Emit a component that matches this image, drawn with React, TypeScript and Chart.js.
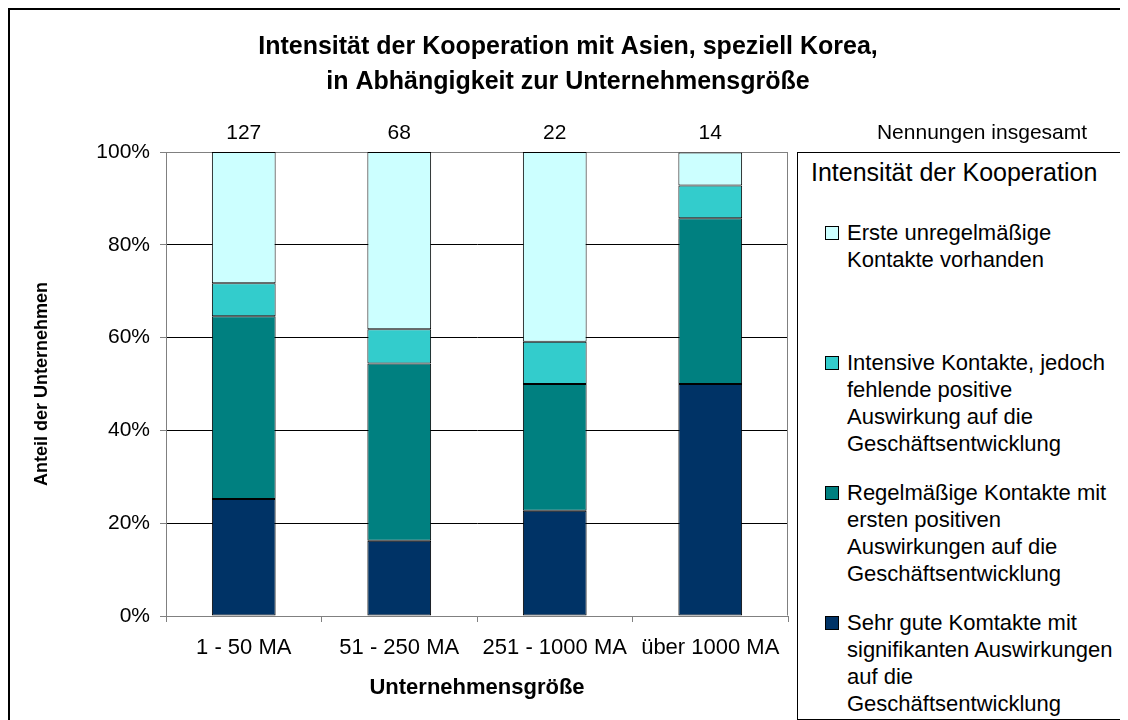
import React, { useEffect, useRef } from "react";
import { Chart, registerables } from "chart.js";

Chart.register(...registerables);

const FONT = '"Liberation Sans", Arial, Helvetica, sans-serif';

// ---- data ----
const titleLines = [
  "Intensität der Kooperation mit Asien, speziell Korea,",
  "in Abhängigkeit zur Unternehmensgröße",
];
const categories = ["1 - 50 MA", "51 - 250 MA", "251 - 1000 MA", "über 1000 MA"];
const totals = [127, 68, 22, 14];
const totalsLabel = "Nennungen insgesamt";
const xTitle = "Unternehmensgröße";
const yTitle = "Anteil der Unternehmen";
const legendTitle = "Intensität der Kooperation";

// stacked from bottom to top (percent)
const sehrGut = [25.2, 16.2, 22.7, 50.0];
const regelmaessig = [39.4, 38.2, 27.3, 35.7];
const intensiv = [7.1, 7.4, 9.1, 7.1];
const ersteKontakte = [28.3, 38.2, 40.9, 7.1];

const sehrGutLines = ["Sehr gute Komtakte mit", "signifikanten Auswirkungen", "auf die", "Geschäftsentwicklung"];
const regelmaessigLines = ["Regelmäßige Kontakte mit", "ersten positiven", "Auswirkungen auf die", "Geschäftsentwicklung"];
const intensivLines = ["Intensive Kontakte, jedoch", "fehlende positive", "Auswirkung auf die", "Geschäftsentwicklung"];
const ersteLines = ["Erste unregelmäßige", "Kontakte vorhanden"];

const seriesColors = ["#003366", "#008080", "#33CCCC", "#CCFFFF"];
const seriesData = [sehrGut, regelmaessig, intensiv, ersteKontakte];
const seriesLines = [sehrGutLines, regelmaessigLines, intensivLines, ersteLines];

const yTickValues = [0, 20, 40, 60, 80, 100];

const extrasPlugin = {
  id: "extras",
  beforeDatasetsDraw(chart: any) {
    const { ctx, chartArea } = chart;
    ctx.save();
    ctx.strokeStyle = "#808080";
    ctx.lineWidth = 1;
    const l = Math.round(chartArea.left) + 0.5;
    const t = Math.round(chartArea.top) + 0.5;
    const r = Math.round(chartArea.right) - 0.5;
    const b = Math.round(chartArea.bottom) - 0.5;
    ctx.beginPath();
    ctx.moveTo(l, t);
    ctx.lineTo(r, t);
    ctx.lineTo(r, b);
    ctx.stroke();
    ctx.restore();
  },
  afterDraw(chart: any) {
    const { ctx, chartArea } = chart;
    const xs = chart.scales.x;
    ctx.save();
    ctx.fillStyle = "#000";
    ctx.font = `21px ${FONT}`;
    ctx.textAlign = "center";
    ctx.textBaseline = "middle";
    const y = chartArea.top - 19;
    totals.forEach((v, i) => {
      ctx.fillText(String(v), xs.getPixelForValue(i), y);
    });
    ctx.fillText(totalsLabel, 972, y);
    ctx.restore();
  },
};

export default function App() {
  const ref = useRef<HTMLCanvasElement>(null);

  useEffect(() => {
    const canvas = ref.current!;
    Chart.defaults.font.family = FONT;
    Chart.defaults.color = "#000";
    const chart = new Chart(canvas, {
      type: "bar",
      data: {
        labels: categories,
        datasets: seriesData.map((d, i) => ({
          label: seriesLines[i].join(" "),
          data: d,
          backgroundColor: seriesColors[i],
          borderColor: "#000",
          borderWidth: 1,
          borderSkipped: false,
          barPercentage: 0.41,
          categoryPercentage: 1,
        })),
      },
      options: {
        responsive: false,
        animation: false,
        devicePixelRatio: 1,
        layout: { padding: { left: 0, right: 0, top: 0, bottom: 0 } },
        plugins: {
          legend: { display: false },
          tooltip: { enabled: false },
          title: {
            display: true,
            text: titleLines,
            color: "#000",
            font: { size: 25, weight: "bold", lineHeight: 1.4 },
            padding: { top: 19.5, bottom: 52.5 },
          },
        },
        scales: {
          x: {
            stacked: true,
            offset: true,
            grid: {
              display: true,
              drawOnChartArea: false,
              drawTicks: true,
              tickLength: 6,
              tickColor: "#808080",
              offset: true,
            },
            border: { display: true, color: "#808080", width: 1 },
            ticks: {
              font: { size: 22 },
              color: "#000",
              padding: 12.8,
              maxRotation: 0,
              autoSkip: false,
            },
            title: {
              display: true,
              text: xTitle,
              color: "#000",
              font: { size: 22, weight: "bold" },
              padding: { top: 0, bottom: 18.8 },
            },
            afterFit: (s: any) => {
              s.height = 104;
            },
          },
          y: {
            stacked: true,
            min: 0,
            max: 100,
            afterBuildTicks: (s: any) => {
              s.ticks = yTickValues.map((v) => ({ value: v }));
            },
            grid: {
              color: (c: any) =>
                c.tick && (c.tick.value === 0 || c.tick.value === 100) ? "#808080" : "#000",
              tickLength: 6,
              tickColor: "#808080",
              drawTicks: true,
            },
            border: { display: true, color: "#808080", width: 1 },
            ticks: {
              font: { size: 21 },
              color: "#000",
              padding: 10,
              callback: (v: any) => `${v}%`,
            },
            title: {
              display: true,
              text: yTitle,
              color: "#000",
              font: { size: 18, weight: "bold" },
              padding: { top: 21.2, bottom: 0 },
            },
            afterFit: (s: any) => {
              s.width = 156;
            },
          },
          yRight: {
            type: "linear",
            position: "right",
            display: true,
            grid: { display: false, drawTicks: false },
            border: { display: false },
            ticks: { display: false },
            afterFit: (s: any) => {
              s.width = 338;
            },
          },
        },
      },
      plugins: [extrasPlugin],
    } as any);
    return () => chart.destroy();
  }, []);

  const legendOrder = [3, 2, 1, 0];

  return (
    <div
      style={{
        position: "relative",
        width: 1120,
        height: 712,
        boxSizing: "border-box",
        border: "2px solid #000",
        borderBottom: "none",
        fontFamily: FONT,
      }}
    >
      <canvas ref={ref} width={1116} height={710} style={{ display: "block" }} />
      <div
        style={{
          position: "absolute",
          left: 787,
          top: 142,
          width: 325,
          height: 568,
          boxSizing: "border-box",
          border: "1px solid #000",
          background: "#fff",
          color: "#000",
        }}
      >
        <div
          style={{
            position: "absolute",
            left: 13,
            top: 4,
            fontSize: 25,
            lineHeight: "30px",
            whiteSpace: "nowrap",
          }}
        >
          {legendTitle}
        </div>
        {legendOrder.map((si, k) => (
          <div
            key={si}
            style={{ position: "absolute", left: 0, top: 65.5 + k * 130, width: "100%", height: 130 }}
          >
            <div
              style={{
                position: "absolute",
                left: 27,
                top: 7,
                width: 14,
                height: 14,
                boxSizing: "border-box",
                border: "1px solid #000",
                background: seriesColors[si],
              }}
            />
            <div
              style={{
                position: "absolute",
                left: 49,
                top: 0,
                fontSize: 22,
                lineHeight: "27px",
                whiteSpace: "nowrap",
              }}
            >
              {seriesLines[si].map((ln, j) => (
                <div key={j}>{ln}</div>
              ))}
            </div>
          </div>
        ))}
      </div>
    </div>
  );
}
